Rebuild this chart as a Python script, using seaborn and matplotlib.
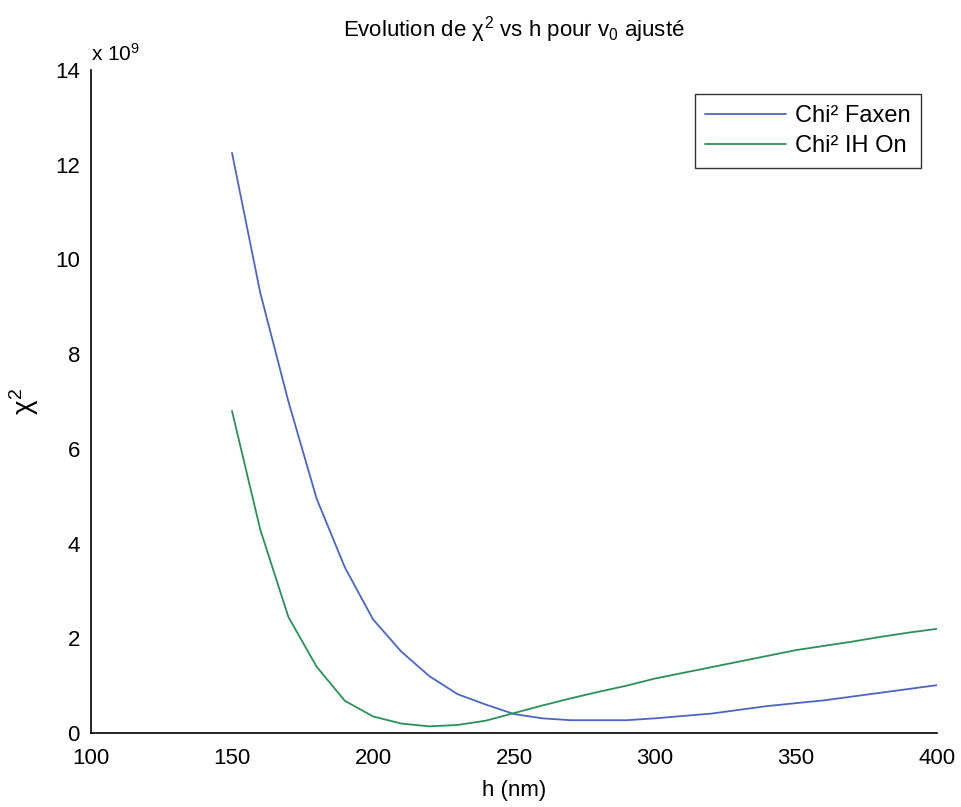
import pandas as pd
import seaborn as sns
import matplotlib.pyplot as plt

# h values (nm) and chi^2 values (x 1e9)
h_nm = [150, 160, 170, 180, 190, 200, 210, 220, 230, 240, 250, 260, 270,
        280, 290, 300, 310, 320, 330, 340, 350, 360, 370, 380, 390, 400]
chi2_faxen = [12.25, 9.3, 7.0, 4.95, 3.5, 2.4, 1.72, 1.2, 0.82, 0.6, 0.4, 0.31,
              0.27, 0.27, 0.27, 0.31, 0.36, 0.41, 0.49, 0.57, 0.63, 0.69, 0.77,
              0.85, 0.93, 1.01]
chi2_ih_on = [6.8, 4.3, 2.45, 1.4, 0.68, 0.35, 0.2, 0.14, 0.17, 0.26, 0.42, 0.58,
              0.73, 0.87, 1.0, 1.15, 1.27, 1.39, 1.51, 1.63, 1.75, 1.84, 1.93,
              2.03, 2.12, 2.2]
series_names = ['Chi² Faxen', 'Chi² IH On']
x_ticks = [100, 150, 200, 250, 300, 350, 400]
y_ticks = [0, 2, 4, 6, 8, 10, 12, 14]

df = pd.DataFrame({
    'h': h_nm * 2,
    'chi2': [v * 1e9 for v in chi2_faxen + chi2_ih_on],
    'serie': [series_names[0]] * len(h_nm) + [series_names[1]] * len(h_nm),
})

sns.set_style('white')
plt.rcParams['font.family'] = ['Liberation Sans', 'DejaVu Sans']
plt.rcParams['text.color'] = 'black'
plt.rcParams['axes.labelcolor'] = 'black'
plt.rcParams['mathtext.fontset'] = 'custom'
plt.rcParams['mathtext.rm'] = 'Liberation Sans'
plt.rcParams['mathtext.it'] = 'Liberation Sans'

fig = plt.figure(figsize=(9.62, 8.07), dpi=100)
ax = fig.add_axes([0.0946, 0.0917, 0.8794, 0.8216])

palette = {series_names[0]: '#4a66c2', series_names[1]: '#2a9156'}
sns.lineplot(data=df, x='h', y='chi2', hue='serie', palette=palette,
             linewidth=1.3, ax=ax)

ax.set_xlim(100, 400)
ax.set_ylim(0, 14e9)
ax.set_xticks(x_ticks)
ax.set_xticklabels([str(t) for t in x_ticks])
ax.set_yticks([t * 1e9 for t in y_ticks])
ax.set_yticklabels([str(t) for t in y_ticks])
ax.tick_params(direction='in', length=7, width=1.2, labelsize=16, colors='black')
ax.tick_params(axis='x', pad=11)
ax.tick_params(axis='y', pad=8)

for s in ['top', 'right']:
    ax.spines[s].set_visible(False)
for s in ['left', 'bottom']:
    ax.spines[s].set_color('black')
    ax.spines[s].set_linewidth(1.2)

ax.text(0.0, 1.008, r'x 10$^{9}$', transform=ax.transAxes, fontsize=15,
        ha='left', va='bottom')
ax.set_title(r'Evolution de $\chi^2$ vs h pour v$_0$ ajusté', fontsize=16, pad=24)
ax.set_xlabel('h (nm)', fontsize=16, labelpad=8)
ax.set_ylabel(r'$\chi^2$', fontsize=20, labelpad=10)

leg = ax.legend(loc='upper right', fontsize=17, frameon=True, fancybox=False,
                edgecolor='black', handlelength=3.4, handletextpad=0.4,
                borderpad=0.45, labelspacing=0.35,
                bbox_to_anchor=(0.9955, 0.981), title=None)
leg.get_frame().set_linewidth(1.0)

fig.savefig('out.png', dpi=100)
